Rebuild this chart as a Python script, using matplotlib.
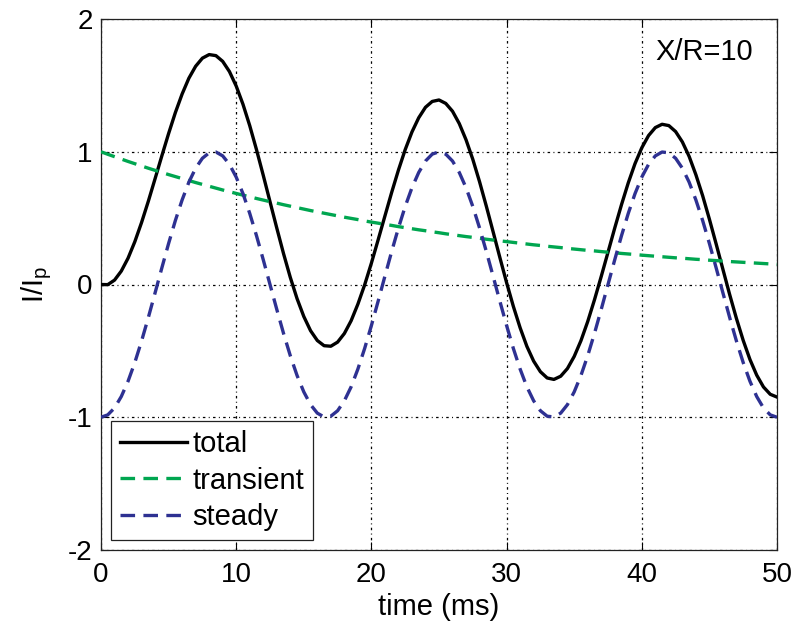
import numpy as np
import matplotlib
matplotlib.use("Agg")
import matplotlib.pyplot as plt

plt.rcParams['font.family'] = ['Liberation Sans', 'DejaVu Sans']
plt.rcParams['mathtext.fontset'] = 'custom'
plt.rcParams['mathtext.rm'] = 'Liberation Sans'
plt.rcParams['mathtext.it'] = 'Liberation Sans'
plt.rcParams['mathtext.default'] = 'regular'
plt.rcParams['lines.scale_dashes'] = False
plt.rcParams['axes.unicode_minus'] = False

# time axis, ms (0 to 50 in 0.5 ms steps)
t_ms = [0.5 * i for i in range(101)]

steady = [-1.000, -0.982, -0.930, -0.844, -0.729, -0.588, -0.426, -0.249, -0.063, 0.125,
          0.309, 0.482, 0.637, 0.771, 0.876, 0.951, 0.992, 0.998, 0.969, 0.905,
          0.809, 0.685, 0.536, 0.368, 0.187, 0.000, -0.187, -0.368, -0.536, -0.685,
          -0.809, -0.905, -0.969, -0.998, -0.992, -0.951, -0.876, -0.771, -0.637, -0.482,
          -0.309, -0.125, 0.063, 0.249, 0.426, 0.588, 0.729, 0.844, 0.930, 0.982,
          1.000, 0.982, 0.930, 0.844, 0.729, 0.588, 0.426, 0.249, 0.063, -0.125,
          -0.309, -0.482, -0.637, -0.771, -0.876, -0.951, -0.992, -0.998, -0.969, -0.905,
          -0.809, -0.685, -0.536, -0.368, -0.187, 0.000, 0.187, 0.368, 0.536, 0.685,
          0.809, 0.905, 0.969, 0.998, 0.992, 0.951, 0.876, 0.771, 0.637, 0.482,
          0.309, 0.125, -0.063, -0.249, -0.426, -0.588, -0.729, -0.844, -0.930, -0.982,
          -1.000]

transient = [1.000, 0.981, 0.963, 0.945, 0.927, 0.910, 0.893, 0.876, 0.860, 0.844,
             0.828, 0.813, 0.798, 0.783, 0.768, 0.754, 0.740, 0.726, 0.712, 0.699,
             0.686, 0.673, 0.661, 0.648, 0.636, 0.624, 0.613, 0.601, 0.590, 0.579,
             0.568, 0.557, 0.547, 0.537, 0.527, 0.517, 0.507, 0.498, 0.489, 0.479,
             0.470, 0.462, 0.453, 0.445, 0.436, 0.428, 0.420, 0.412, 0.405, 0.397,
             0.390, 0.382, 0.375, 0.368, 0.361, 0.355, 0.348, 0.341, 0.335, 0.329,
             0.323, 0.317, 0.311, 0.305, 0.299, 0.294, 0.288, 0.283, 0.278, 0.272,
             0.267, 0.262, 0.257, 0.253, 0.248, 0.243, 0.239, 0.234, 0.230, 0.226,
             0.221, 0.217, 0.213, 0.209, 0.205, 0.201, 0.198, 0.194, 0.190, 0.187,
             0.183, 0.180, 0.177, 0.173, 0.170, 0.167, 0.164, 0.161, 0.158, 0.155,
             0.152]

total = [0.000, -0.001, 0.033, 0.101, 0.198, 0.322, 0.467, 0.627, 0.797, 0.969,
         1.137, 1.295, 1.435, 1.554, 1.644, 1.705, 1.732, 1.724, 1.681, 1.604,
         1.495, 1.358, 1.197, 1.016, 0.823, 0.624, 0.426, 0.233, 0.054, -0.106,
         -0.241, -0.348, -0.422, -0.461, -0.465, -0.434, -0.369, -0.273, -0.148, -0.003,
         0.161, 0.337, 0.516, 0.694, 0.862, 1.016, 1.149, 1.256, 1.335, 1.379,
         1.390, 1.364, 1.305, 1.212, 1.090, 0.943, 0.774, 0.590, 0.398, 0.204,
         0.014, -0.165, -0.326, -0.466, -0.577, -0.657, -0.704, -0.715, -0.691, -0.633,
         -0.542, -0.423, -0.279, -0.115, 0.061, 0.243, 0.426, 0.602, 0.766, 0.911,
         1.030, 1.122, 1.182, 1.207, 1.197, 1.152, 1.074, 0.965, 0.827, 0.669,
         0.492, 0.305, 0.114, -0.076, -0.256, -0.421, -0.565, -0.683, -0.772, -0.827,
         -0.848]

x_ticks = [0, 10, 20, 30, 40, 50]
y_ticks = [-2, -1, 0, 1, 2]
labels = ["total", "transient", "steady"]
annotation = "X/R=10"

fig = plt.figure(figsize=(7.96, 6.23), dpi=100)
ax = fig.add_axes([101/796, (623-550)/623, 676/796, 531/623])

lw = 2.4
ax.plot(t_ms, total, color='black', lw=lw, label=labels[0], zorder=3)
ax.plot(t_ms, transient, color='#00A650', lw=lw, dashes=(10.5, 6.0), label=labels[1], zorder=3)
ax.plot(t_ms, steady, color='#2E3192', lw=lw, dashes=(10.5, 6.0), label=labels[2], zorder=3)

ax.set_xlim(0, 50)
ax.set_ylim(-2, 2)
ax.set_xticks(x_ticks)
ax.set_yticks(y_ticks)
ax.grid(True, color='black', lw=0.9, linestyle=(0, (1.8, 2.4, 0.7, 2.4)))
ax.tick_params(direction='in', length=6, width=0.8, top=True, right=True,
               labelsize=20, colors='black')
ax.tick_params(axis='x', pad=9)
ax.tick_params(axis='y', pad=6)
for s in ax.spines.values():
    s.set_linewidth(0.9)
    s.set_color('#222222')

ax.set_xlabel("time (ms)", fontsize=21, labelpad=3)
ax.set_ylabel("I/I$_p$", fontsize=21, labelpad=10)

ax.text(41.0, 1.75, annotation, fontsize=21, va='center', ha='left')

leg = ax.legend(loc='lower left', bbox_to_anchor=(0.0148, 0.0188), borderaxespad=0,
                fontsize=21, handlelength=2.3, handletextpad=0.2, labelspacing=0.3,
                borderpad=0.3, fancybox=False, framealpha=1, edgecolor='#222222')
leg.get_frame().set_linewidth(0.9)

fig.savefig("out.png", dpi=100)
